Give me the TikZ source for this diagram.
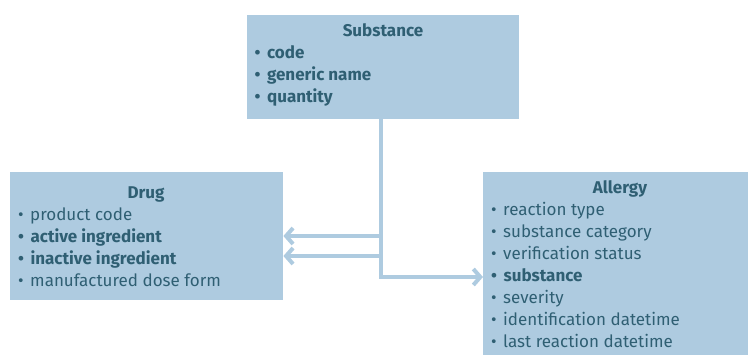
\documentclass[tikz,border=0pt]{standalone}
\usepackage{fontspec}
\setmainfont{Fira Sans}
\usetikzlibrary{positioning,calc,arrows.meta}
\definecolor{boxblue}{HTML}{AECBE0}
\definecolor{inkteal}{HTML}{2F5F73}
\tikzset{
  entity/.style   = {fill=boxblue, draw=none, inner sep=0pt, anchor=north west},
  etitle/.style   = {font=\fontsize{17}{17}\selectfont\bfseries, text=inkteal, inner sep=0pt, anchor=base},
  item/.style     = {font=\fontsize{17}{17}\selectfont, text=inkteal, anchor=base west, inner sep=0pt},
  itemb/.style    = {item, font=\fontsize{17}{17}\selectfont\bfseries},
  link/.style     = {draw=boxblue, line width=4pt},
  linkto/.style   = {link, -{Straight Barb[length=7pt, width=16pt]}},
}
\newcommand{\bul}{•\hspace{6.5pt}}

\begin{document}
\begin{tikzpicture}[x=1pt,y=-1pt]
  \useasboundingbox (0,0) rectangle (748,354);

  % boxes
  \node[entity, minimum width=272pt, minimum height=104pt] (sub) at (247,15) {};
  \node[entity, minimum width=273pt, minimum height=128pt] (drug) at (10,172) {};
  \node[entity, minimum width=266pt, minimum height=183pt] (allergy) at (483,172) {};

  % substance
  \node[etitle] (sub-t) at (383,36.5) {Substance};
  \foreach \t [count=\i from 0] in {code,generic name,quantity} {
    \node[itemb] (sub-\i) at (254.5,{58.5+\i*22}) {\bul\t};
  }

  % drug
  \node[etitle] (drug-t) at (146,198.5) {Drug};
  \foreach \t/\s [count=\i from 0] in {product code/item,active ingredient/itemb,
      inactive ingredient/itemb,manufactured dose form/item} {
    \node[\s] (drug-\i) at (18,{220+\i*22}) {\bul\t};
  }

  % allergy
  \node[etitle] (allergy-t) at (620,193.5) {Allergy};
  \foreach \t/\s [count=\i from 0] in {reaction type/item,substance category/item,
      verification status/item,substance/itemb,severity/item,
      identification datetime/item,last reaction datetime/item} {
    \node[\s] (allergy-\i) at (491,{215+\i*22}) {\bul\t};
  }

  % links
  \coordinate (split) at (381,277);
  \coordinate (act) at (381,236);
  \coordinate (inact) at (381,256);
  \draw[linkto] (sub.south -| split) |- (allergy.west |- split);
  \draw[linkto] (act) -- (act -| drug.east);
  \draw[linkto] (inact) -- (inact -| drug.east);
\end{tikzpicture}
\end{document}
